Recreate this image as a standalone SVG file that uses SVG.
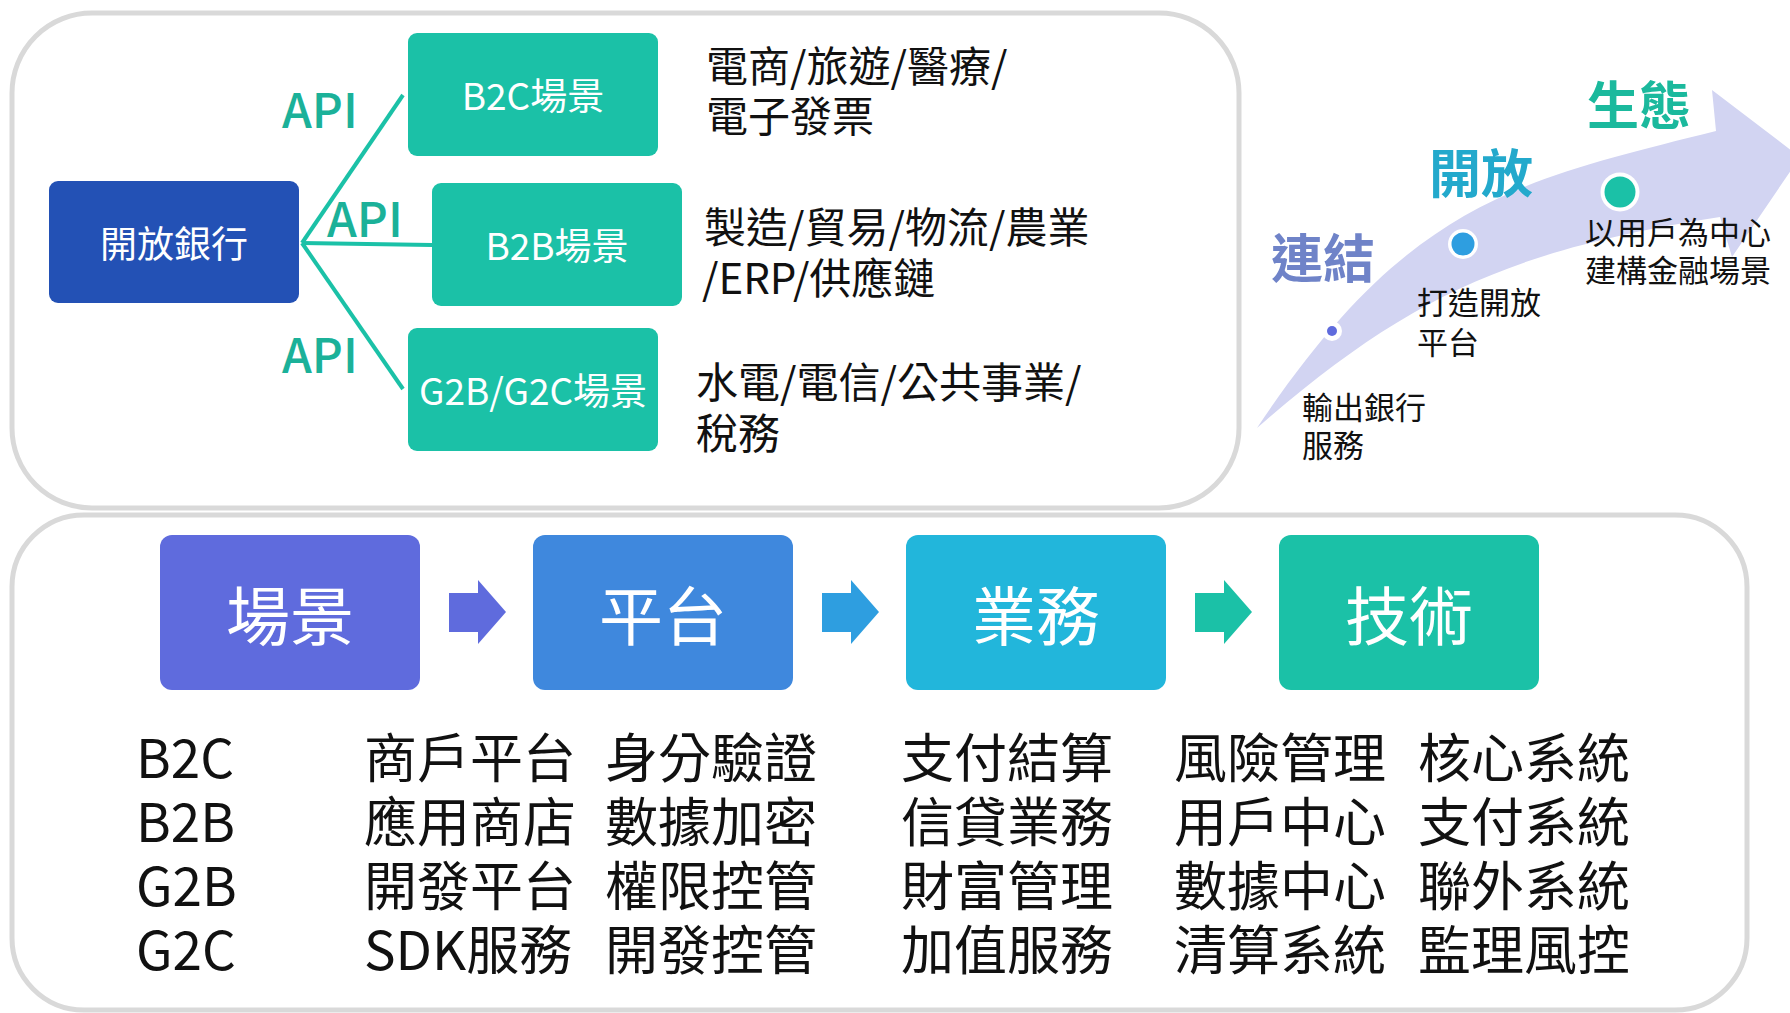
<svg xmlns="http://www.w3.org/2000/svg" width="1790" height="1013" viewBox="0 0 1790 1013">
<style>
text{font-family:"Noto Sans CJK TC","Noto Sans",sans-serif}
.panel{fill:none;stroke:#d9d9d9;stroke-width:5}
.nl{fill:#ffffff;font-size:37px;text-anchor:middle;dominant-baseline:central}
.big{fill:#ffffff;font-size:64px;text-anchor:middle;dominant-baseline:central}
.api{fill:#1bb199;font-size:48px;font-weight:500}
.desc{fill:#111111;font-size:42px}
.small{fill:#111111;font-size:31px}
.title{font-size:52px;font-weight:700}
.list{fill:#111111;font-size:53px}
.conn{stroke:#1bc1a7;stroke-width:4;fill:none}
</style>
<rect class="panel" x="12" y="13" width="1227" height="495" rx="80"/>
<rect class="panel" x="12" y="515" width="1735" height="495" rx="72"/>

<g id="connectors">
<line class="conn" x1="302" y1="243" x2="403" y2="95"/>
<line class="conn" x1="302" y1="243" x2="432" y2="245"/>
<line class="conn" x1="302" y1="243" x2="403" y2="389"/>
<polygon fill="#5f6bdd" points="449,593 478,593 478,580 506,612 478,644 478,632 449,632"/>
<polygon fill="#2e9ee0" points="822,593 851,593 851,580 879,612 851,644 851,632 822,632"/>
<polygon fill="#1bc1a7" points="1195,593 1224,593 1224,580 1252,612 1224,644 1224,632 1195,632"/>
</g>

<g id="node-open-bank"><rect x="49" y="181" width="250" height="122" rx="9" fill="#2351b5"/><text class="nl" x="174" y="242">開放銀行</text></g>
<g id="node-b2c"><rect x="408" y="33" width="250" height="123" rx="9" fill="#1bc1a7"/><text class="nl" x="533" y="94">B2C場景</text></g>
<g id="node-b2b"><rect x="432" y="183" width="250" height="123" rx="9" fill="#1bc1a7"/><text class="nl" x="557" y="244">B2B場景</text></g>
<g id="node-g2b"><rect x="408" y="328" width="250" height="123" rx="9" fill="#1bc1a7"/><text class="nl" x="533" y="389">G2B/G2C場景</text></g>

<g id="api-labels">
<text class="api" x="282" y="128">API</text>
<text class="api" x="327" y="237">API</text>
<text class="api" x="282" y="373">API</text>
</g>

<g id="descriptions">
<text class="desc" x="706" y="82">電商/旅遊/醫療/<tspan x="706" dy="50">電子發票</tspan></text>
<text class="desc" x="704" y="243">製造/貿易/物流/農業<tspan x="702" dy="51">/ERP/供應鏈</tspan></text>
<text class="desc" x="696" y="398">水電/電信/公共事業/<tspan x="696" dy="51">稅務</tspan></text>
</g>

<g id="evolution">
<path fill="#d2d4f2" d="M1257,428 C1407,203 1516,181 1716,131 L1712,90 L1800,157 L1732,257 L1720,217 C1510,250 1407,297 1257,428 Z"/>
<circle cx="1332" cy="331" r="10" fill="#ffffff"/><circle cx="1332" cy="331" r="5" fill="#5f6bdd"/>
<circle cx="1463" cy="244" r="15" fill="#ffffff"/><circle cx="1463" cy="244" r="11.5" fill="#2e9ee0"/>
<circle cx="1620" cy="192" r="19.5" fill="#ffffff"/><circle cx="1620" cy="192" r="15.5" fill="#1bc1a7"/>
<text class="title" x="1271" y="278" fill="#6f83c8">連結</text>
<text class="title" x="1429" y="193" fill="#23a9cc">開放</text>
<text class="title" x="1587" y="125" fill="#1bb99d">生態</text>
<text class="small" x="1585" y="244">以用戶為中心<tspan x="1585" dy="38">建構金融場景</tspan></text>
<text class="small" x="1417" y="314">打造開放<tspan x="1417" dy="40">平台</tspan></text>
<text class="small" x="1302" y="419">輸出銀行<tspan x="1302" dy="38">服務</tspan></text>
</g>

<g id="node-scene"><rect x="160" y="535" width="260" height="155" rx="12" fill="#5f6bdd"/><text class="big" x="290" y="612">場景</text></g>
<g id="node-platform"><rect x="533" y="535" width="260" height="155" rx="12" fill="#3f88dd"/><text class="big" x="663" y="612">平台</text></g>
<g id="node-business"><rect x="906" y="535" width="260" height="155" rx="12" fill="#22b6db"/><text class="big" x="1036" y="612">業務</text></g>
<g id="node-tech"><rect x="1279" y="535" width="260" height="155" rx="12" fill="#1bc1a7"/><text class="big" x="1409" y="612">技術</text></g>

<g id="lists">
<text class="list" x="136" y="778">B2C<tspan x="136" dy="64">B2B</tspan><tspan x="136" dy="64">G2B</tspan><tspan x="136" dy="64">G2C</tspan></text>
<text class="list" x="364" y="778">商戶平台<tspan x="364" dy="64">應用商店</tspan><tspan x="364" dy="64">開發平台</tspan><tspan x="364" dy="64">SDK服務</tspan></text>
<text class="list" x="605" y="778">身分驗證<tspan x="605" dy="64">數據加密</tspan><tspan x="605" dy="64">權限控管</tspan><tspan x="605" dy="64">開發控管</tspan></text>
<text class="list" x="901" y="778">支付結算<tspan x="901" dy="64">信貸業務</tspan><tspan x="901" dy="64">財富管理</tspan><tspan x="901" dy="64">加值服務</tspan></text>
<text class="list" x="1174" y="778">風險管理<tspan x="1174" dy="64">用戶中心</tspan><tspan x="1174" dy="64">數據中心</tspan><tspan x="1174" dy="64">清算系統</tspan></text>
<text class="list" x="1418" y="778">核心系統<tspan x="1418" dy="64">支付系統</tspan><tspan x="1418" dy="64">聯外系統</tspan><tspan x="1418" dy="64">監理風控</tspan></text>
</g>
</svg>
